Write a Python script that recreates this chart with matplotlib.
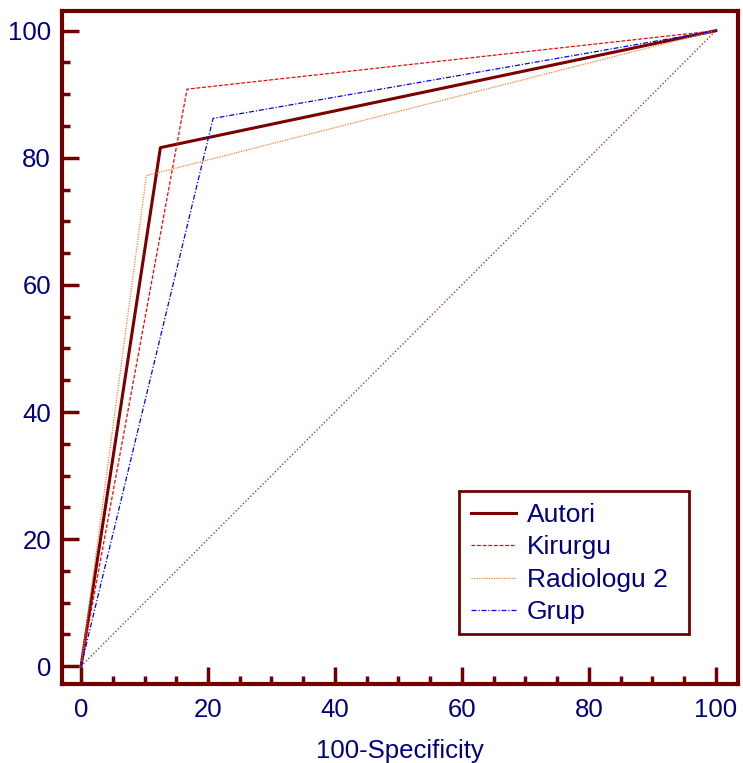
import numpy as np
import matplotlib
matplotlib.use("Agg")
from matplotlib import pyplot as plt
from matplotlib.ticker import MultipleLocator
from matplotlib.patches import Rectangle

plt.rcParams['font.family'] = ['Liberation Sans', 'DejaVu Sans']

# ROC curves: one cut-off point per reader
series_names = ["Autori", "Kirurgu", "Radiologu 2", "Grup"]
fpr = [[0, 12.5, 100], [0, 16.7, 100], [0, 10.3, 100], [0, 20.8, 100]]   # 100-Specificity
tpr = [[0, 81.6, 100], [0, 90.8, 100], [0, 77.2, 100], [0, 86.2, 100]]   # Sensitivity
diag = [0, 100]

colors = ["#7a0000", "#ff0000", "#ff8030", "#0000ff"]
styles = ["-", (0, (3, 1.5)), (0, (1, 1)), (0, (4, 1.5, 1, 1.5))]
widths = [2.2, 0.9, 0.9, 0.9]

frame = "#700000"
txt = "#000080"
W, H = 743, 763

fig = plt.figure(figsize=(W/100, H/100), dpi=100)
ax = fig.add_axes([62/W, 1-684/H, 676/W, 673/H])

ax.plot(diag, diag, color="#a04040", lw=1.0, ls=(0, (1, 1.5)))
for name, x, y, c, s, w in zip(series_names, fpr, tpr, colors, styles, widths):
    ax.plot(x, y, color=c, ls=s, lw=w, label=name)

ax.set_xlim(-3.0, 103.5)
ax.set_ylim(-2.8, 103.1)
ax.xaxis.set_major_locator(MultipleLocator(20))
ax.xaxis.set_minor_locator(MultipleLocator(5))
ax.yaxis.set_major_locator(MultipleLocator(20))
ax.yaxis.set_minor_locator(MultipleLocator(5))

for sp in ax.spines.values():
    sp.set_color(frame)
    sp.set_linewidth(3)

ax.tick_params(which="major", direction="in", length=12, width=2.5, color=frame,
               labelsize=18.5, labelcolor=txt, pad=8)
ax.tick_params(which="minor", direction="in", length=6, width=2.5, color=frame)
ax.tick_params(axis="x", which="major", pad=10)

ax.set_xlabel("100-Specificity", fontsize=18.5, color=txt, labelpad=12)

# legend box drawn by hand, entries placed inside it
box = Rectangle((459/W, 1-634/H), 230/W, 143/H, transform=fig.transFigure,
                facecolor="white", edgecolor=frame, lw=2, zorder=5, clip_on=False)
ax.add_patch(box)
leg = ax.legend(loc="upper left", bbox_to_anchor=(471/W, 1-503/H),
                bbox_transform=fig.transFigure, fontsize=19, frameon=False,
                handlelength=1.7, handletextpad=0.42,
                labelspacing=0.32, borderpad=0, borderaxespad=0)
leg.set_zorder(6)
for t in leg.get_texts():
    t.set_color(txt)

fig.savefig("out.png", dpi=100)
